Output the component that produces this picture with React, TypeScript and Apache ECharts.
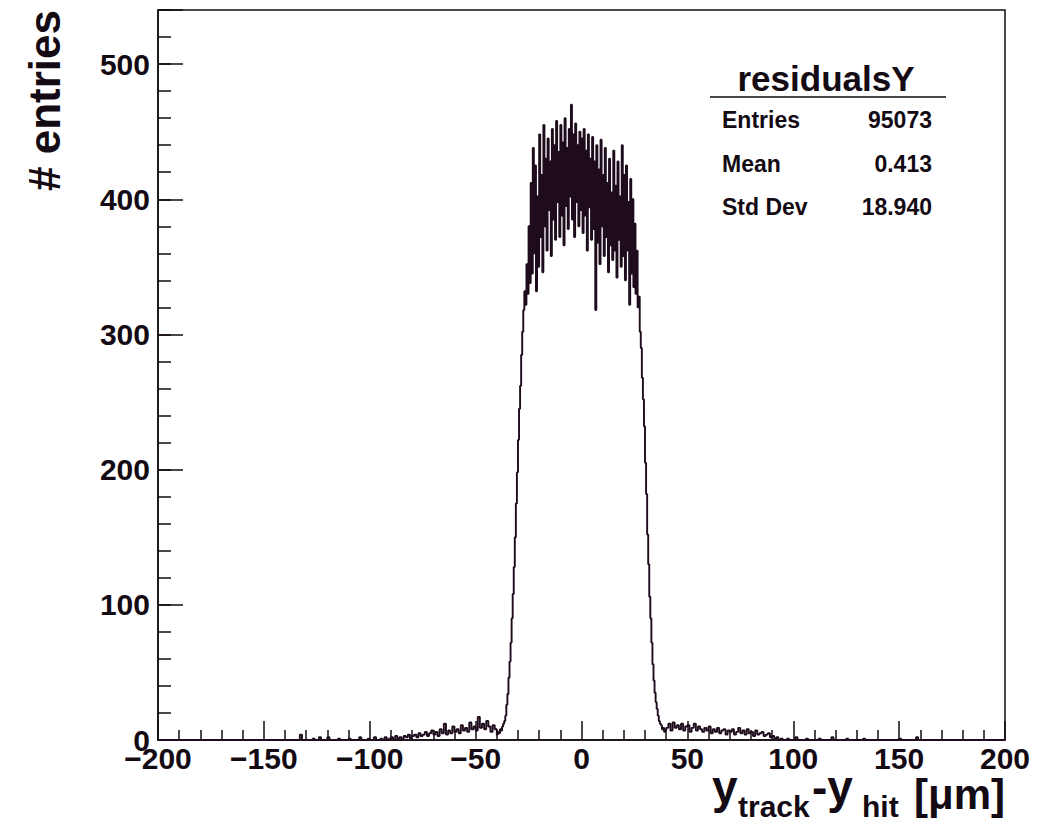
import React, { useEffect, useRef } from "react";
import * as echarts from "echarts";

// ---- axis settings ----
const X_MIN = -200;
const X_MAX = 200;
const X_INTERVAL = 50;
const Y_MIN = 0;
const Y_MAX = 540;
const Y_INTERVAL = 100;

// ---- histogram values ----
// core region: bins of 0.5 um, left edges from -40.0 to 39.5
const CORE_START = -40;
const CORE_WIDTH = 0.5;
const coreCounts = [
  4, 6, 5, 8, 7, 10, 12, 14, 18, 26,
  34, 46, 58, 72, 90, 108, 128, 150, 175, 198,
  222, 245, 262, 285, 302, 318, 332, 322, 352, 330,
  380, 338, 412, 345, 438, 360, 425, 332, 402, 350,
  448, 372, 418, 346, 455, 380, 430, 362, 445, 392,
  428, 358, 452, 385, 440, 370, 458, 398, 435, 372,
  455, 388, 442, 366, 460, 395, 438, 378, 452, 402,
  470, 385, 448, 372, 456, 398, 440, 380, 450, 392,
  445, 375, 452, 388, 436, 362, 448, 394, 430, 370,
  446, 378, 428, 318, 440, 368, 422, 352, 444, 380,
  418, 358, 438, 372, 412, 346, 430, 366, 405, 355,
  436, 362, 410, 342, 428, 370, 402, 350, 440, 358,
  418, 340, 425, 362, 398, 322, 415, 345, 400, 335,
  382, 330, 362, 320, 328, 302, 290, 268, 252, 232,
  205, 182, 152, 130, 106, 90, 72, 56, 44, 35,
  28, 23, 18, 14, 12, 11, 8, 9, 6, 7,
];

// left tail: bins of 1 um, left edges from -90 to -41
const LEFT_TAIL_START = -90;
const leftTailCounts = [
  2, 0, 3, 1, 2, 0, 3, 2, 4, 1,
  3, 4, 2, 5, 3, 4, 6, 3, 5, 7,
  4, 6, 3, 8, 5, 12, 4, 7, 5, 10,
  6, 8, 5, 11, 7, 9, 6, 13, 8, 10,
  7, 17, 9, 12, 8, 14, 10, 6, 11, 8,
];

// right tail: bins of 1 um, left edges from 40 to 94
const RIGHT_TAIL_START = 40;
const rightTailCounts = [
  9, 12, 7, 13, 9, 11, 8, 12, 7, 10,
  11, 6, 9, 12, 7, 10, 8, 6, 9, 7,
  10, 5, 8, 6, 9, 5, 7, 8, 4, 7,
  6, 8, 4, 6, 9, 5, 7, 4, 8, 5,
  6, 3, 7, 4, 5, 6, 3, 4, 5, 2,
  3, 1, 2, 0, 1,
];

// isolated entries far out in the tails: [bin left edge, count]
const farBlips: [number, number][] = [
  [-133, 4], [-127, 1], [-124, 2], [-120, 2], [-115, 1], [-110, 1],
  [-105, 2], [-101, 1], [-98, 2], [-95, 1], [-93, 2], [-91, 1],
  [97, 1], [101, 2], [106, 1], [112, 1], [118, 2], [125, 1],
  [133, 1], [150, 1], [158, 2],
];

// ---- stats box ----
const statsTitle = "residualsY";
const statsLabels = ["Entries", "Mean", "Std Dev"];
const statsValues = ["95073", "0.413", "18.940"];

const INK = "#140a14";
const HIST_COLOR = "#1e0c1c";
const FONT = '"Liberation Sans", Arial, Helvetica, sans-serif';

function buildPoints(): [number, number][] {
  const pts: [number, number][] = [];
  const blipMap = new Map<number, number>();
  farBlips.forEach(([x, c]) => blipMap.set(x, c));
  const leftTailEnd = LEFT_TAIL_START + leftTailCounts.length;
  const rightTailEnd = RIGHT_TAIL_START + rightTailCounts.length;
  for (let x = X_MIN; x < LEFT_TAIL_START; x += 1) {
    pts.push([x, blipMap.get(x) ?? 0]);
  }
  leftTailCounts.forEach((c, i) => pts.push([LEFT_TAIL_START + i, c]));
  for (let x = leftTailEnd; x < CORE_START; x += 1) pts.push([x, 0]);
  coreCounts.forEach((c, i) => pts.push([CORE_START + i * CORE_WIDTH, c]));
  rightTailCounts.forEach((c, i) => pts.push([RIGHT_TAIL_START + i, c]));
  for (let x = rightTailEnd; x < X_MAX; x += 1) {
    pts.push([x, blipMap.get(x) ?? 0]);
  }
  pts.push([X_MAX, 0]);
  return pts;
}

export default function App() {
  const ref = useRef<HTMLDivElement>(null);

  useEffect(() => {
    if (!ref.current) return;
    const chart = echarts.init(ref.current, undefined, { renderer: "svg" });
    const lineStyle = { color: INK, width: 1.5 };
    const txt = (
      text: string,
      x: number,
      y: number,
      size: number,
      align: string,
      extra: any = {}
    ) => ({
      type: "text",
      x,
      y,
      ...extra,
      style: {
        text,
        font: `bold ${size}px ${FONT}`,
        fill: INK,
        align,
        textAlign: align,
        verticalAlign: "middle",
        textVerticalAlign: "middle",
      },
    });

    const graphics: any[] = [
      txt("# entries", 44, 10, 44, "right", { rotation: Math.PI / 2 }),
      // x-axis title pieces
      txt("y", 712, 787, 46, "left"),
      txt("track", 738, 806, 30, "left"),
      txt("-y", 812, 787, 46, "left"),
      txt("hit", 862, 806, 30, "left"),
      txt("[\u03bcm]", 1005, 794, 42, "right"),
      // stats box
      txt(statsTitle, 826, 78, 35, "center"),
      {
        type: "line",
        shape: { x1: 710, y1: 97, x2: 946, y2: 97 },
        style: { stroke: INK, lineWidth: 1.5 },
      },
    ];
    const rowY = [120, 164, 207];
    statsLabels.forEach((l, i) => {
      graphics.push(txt(l, 722, rowY[i], 23, "left"));
      graphics.push(txt(statsValues[i], 932, rowY[i], 23, "right"));
    });

    chart.setOption({
      animation: false,
      grid: {
        left: 158,
        right: 53,
        top: 10,
        bottom: 88,
        show: true,
        borderColor: INK,
        borderWidth: 1.5,
        backgroundColor: "transparent",
      },
      xAxis: {
        type: "value",
        min: X_MIN,
        max: X_MAX,
        interval: X_INTERVAL,
        axisLine: { show: true, onZero: false, lineStyle },
        axisTick: { show: true, inside: true, length: 19, lineStyle },
        minorTick: { show: true, splitNumber: 5, length: 10, lineStyle },
        splitLine: { show: false },
        axisLabel: {
          show: true,
          margin: 3,
          color: INK,
          fontFamily: FONT,
          fontWeight: "bold",
          fontSize: 30,
          formatter: (v: number) => String(v).replace("-", "\u2212"),
        },
      },
      yAxis: [
        {
          type: "value",
          min: Y_MIN,
          max: Y_MAX,
          interval: Y_INTERVAL,
          axisLine: { show: true, onZero: false, lineStyle },
          axisTick: { show: true, inside: true, length: 25, lineStyle },
          splitLine: { show: false },
          axisLabel: {
            show: true,
            margin: 8,
            color: INK,
            fontFamily: FONT,
            fontWeight: "bold",
            fontSize: 30,
            formatter: (v: number) => (v % 100 === 0 ? String(v) : ""),
          },
        },
        {
          type: "value",
          position: "left",
          min: Y_MIN,
          max: Y_MAX,
          interval: 20,
          axisLine: { show: false, onZero: false },
          axisTick: { show: true, inside: true, length: 13, lineStyle },
          splitLine: { show: false },
          axisLabel: { show: false },
        },
      ],
      series: [
        {
          type: "line",
          data: buildPoints(),
          step: "end",
          symbol: "none",
          showSymbol: false,
          xAxisIndex: 0,
          yAxisIndex: 0,
          lineStyle: { color: HIST_COLOR, width: 1.9 },
          clip: true,
          silent: true,
        },
      ],
      graphic: graphics,
    });
    return () => chart.dispose();
  }, []);

  return (
    <div
      ref={ref}
      style={{ position: "absolute", left: 0, top: 0, width: 1058, height: 828 }}
    />
  );
}
